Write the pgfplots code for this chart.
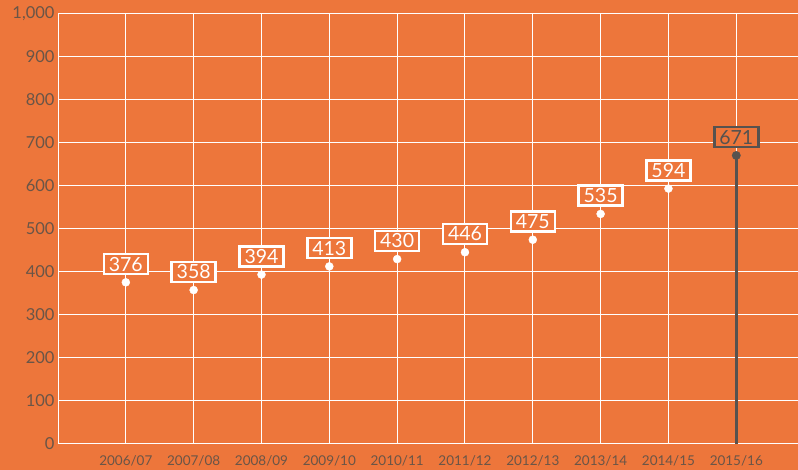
\documentclass[border=0pt]{standalone}
\usepackage{fontspec}
\setmainfont{Lato}
\usepackage{pgfplots}
\pgfplotsset{compat=1.18}
\definecolor{bg}{HTML}{ED763B}
\definecolor{dk}{HTML}{56524F}
\definecolor{tk}{HTML}{6A5547}

\tikzset{valbox/.style={font=\fontsize{19.5}{21}\selectfont, anchor=south, yshift=7pt,
    line width=2.5pt, fill=bg, inner xsep=5pt, inner ysep=3pt,
    text height=14pt, text depth=0pt}}

\begin{document}
\begin{tikzpicture}
\fill[bg] (0,0) rectangle (798pt,470pt);
\useasboundingbox (0,0) rectangle (798pt,470pt);
\begin{axis}[
  at={(58pt,26pt)}, anchor=south west,
  scale only axis, width=740pt, height=430pt,
  xmin=-1, xmax=9.91, ymin=0, ymax=1000,
  axis lines=left,
  axis line style={white, line width=1pt, -},
  grid=major,
  grid style={white, line width=1pt},
  major tick length=0pt,
  xtick={0,...,9},
  xticklabels={2006/07,2007/08,2008/09,2009/10,2010/11,2011/12,2012/13,2013/14,2014/15,2015/16},
  ytick={0,100,...,1000},
  /pgf/number format/assume math mode=true,
  /pgf/number format/1000 sep={,},
  yticklabel style={font=\fontsize{16.5}{18}\selectfont, text=tk},
  xticklabel style={font=\fontsize{13.5}{15}\selectfont, text=tk, yshift=-8pt},
  clip=false,
]

\addplot[only marks, mark=*, mark size=4pt, white,
  nodes near coords,
  nodes near coords style={valbox, draw=white, text=white}] coordinates {
  (0,376) (1,358) (2,394) (3,413) (4,430) (5,446) (6,475) (7,535) (8,594)
};

% latest year, highlighted with a drop line
\addplot[dk, line width=3pt, mark=none] coordinates {
  (9,0) (9,671)
};
\addplot[only marks, mark=*, mark size=4.2pt, dk,
  nodes near coords,
  nodes near coords style={valbox, draw=dk, text=dk}] coordinates {
  (9,671)
};

\end{axis}
\end{tikzpicture}
\end{document}
